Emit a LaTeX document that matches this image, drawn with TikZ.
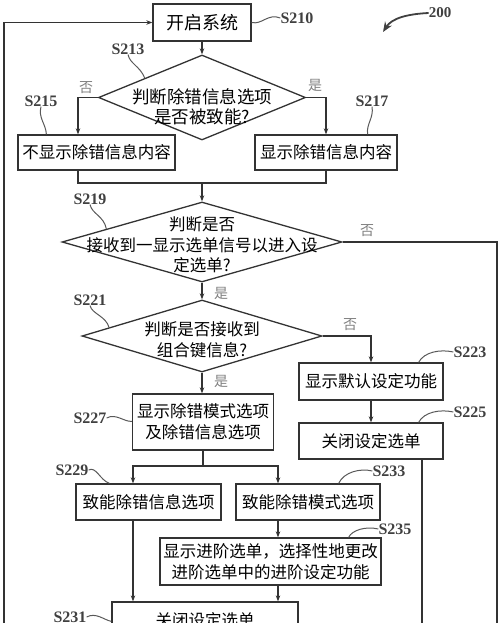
\documentclass[tikz,border=0pt]{standalone}
\usepackage{fontspec}
\setmainfont{Liberation Serif}
\newfontfamily\cjk{Noto Sans CJK SC}
\usetikzlibrary{shapes.geometric, arrows.meta, calc}
\tikzset{
  box/.style={draw=black!80, line width=1.3pt, inner sep=0pt, align=center, font=\cjk\fontsize{16.5}{21}\selectfont},
  dec/.style={draw=black!80, diamond, line width=1.3pt, inner sep=0pt},
  dtext/.style={align=center, inner sep=0pt, font=\cjk\fontsize{16.5}{20.5}\selectfont},
  tag/.style={font=\bfseries\fontsize{16}{16}\selectfont, text=black!75, inner sep=0pt},
  yn/.style={font=\cjk\fontsize{14}{14}\selectfont, text=black!50, inner sep=0pt},
  lead/.style={line width=1pt, black!65},
  wire/.style={line width=1.2pt, black!80},
  arr/.style={wire, -{Stealth[length=6pt, width=4.5pt]}}
}

\begin{document}
\begin{tikzpicture}[x=1pt, y=-1pt]
\useasboundingbox (0,0) rectangle (500,623);
\clip (0,0) rectangle (500,623);
% guides for the vertical lines
\coordinate (c0) at (78,0);
\coordinate (c1) at (133,0);
\coordinate (c2) at (278,0);
\coordinate (c3) at (422,660);
\coordinate (c4) at (497,660);
\coordinate (c5) at (4,660);
\coordinate (m219) at (202,183);
\coordinate (m227) at (203,466);
\coordinate (p200) at (383,32);

% steps
\node[box, minimum width=98pt, minimum height=37pt, font=\cjk\fontsize{18}{18}\selectfont] (s210) at (202,22.5) {开启系统};
\node[dec, minimum width=207pt, minimum height=85pt] (d213) at (202,97.5) {};
\node[dtext, font=\cjk\fontsize{17.5}{20}\selectfont] (t213) at (202,107) {判断除错信息选项\\是否被致能?};
\node[box, minimum width=157pt, minimum height=35pt] (s215) at (96.5,152.5) {不显示除错信息内容};
\node[box, minimum width=142pt, minimum height=35pt] (s217) at (326,152.5) {显示除错信息内容};
\node[dec, minimum width=280pt, minimum height=80pt] (d219) at (202,242) {};
\node[dtext] (t219) at (202,245) {判断是否\\接收到一显示选单信号以进入设\\定选单?};
\node[dec, minimum width=240pt, minimum height=72pt] (d221) at (202,336) {};
\node[dtext] (t221) at (202,340) {判断是否接收到\\组合键信息?};
\node[box, minimum width=144pt, minimum height=37pt] (s223) at (371,381.5) {显示默认设定功能};
\node[box, minimum width=144pt, minimum height=36pt] (s225) at (371,441) {关闭设定选单};
\node[box, minimum width=141pt, minimum height=56pt] (s227) at (203,422) {显示除错模式选项\\及除错信息选项};
\node[box, minimum width=145pt, minimum height=36pt] (s229) at (148.5,502) {致能除错信息选项};
\node[box, minimum width=144pt, minimum height=36pt] (s233) at (308,502) {致能除错模式选项};
\node[box, minimum width=221pt, minimum height=47pt] (s235) at (270.5,561.5) {显示进阶选单，选择性地更改\\进阶选单中的进阶设定功能};
\node[box, minimum width=186pt, minimum height=36pt] (s231) at (205,620) {关闭设定选单};

% step tags
\node[tag] (n210) at (297,18) {S210};
\node[tag] (n213) at (128,49) {S213};
\node[tag] (n215) at (41,101) {S215};
\node[tag] (n217) at (372,101) {S217};
\node[tag] (n219) at (90,199) {S219};
\node[tag] (n221) at (90,300) {S221};
\node[tag] (n223) at (470,352) {S223};
\node[tag] (n225) at (470,412) {S225};
\node[tag] (n227) at (90,418) {S227};
\node[tag] (n229) at (72,470) {S229};
\node[tag] (n231) at (70,617) {S231};
\node[tag] (n233) at (389,471) {S233};
\node[tag] (n235) at (395,529) {S235};
\node[tag, font=\bfseries\fontsize{15}{15}\selectfont] (n200) at (440,13) {200};

% yes / no
\node[yn] (y213a) at (86,88) {否};
\node[yn] (y213b) at (315,85) {是};
\node[yn] (y219a) at (367,231) {否};
\node[yn] (y219b) at (221,293) {是};
\node[yn] (y221a) at (350,325) {否};
\node[yn] (y221b) at (221,381) {是};

% flow
\draw[arr] (c5) |- (s210.west);
\draw[arr] (s210.south) -- (d213.north);
\draw[arr] (d213.west) -| (s215.north -| c0);
\draw[arr] (d213.east) -| (s217.north);
\draw[wire] (s215.south -| c0) |- (s217.south |- m219) -- (s217.south);
\draw[arr] (m219) -- (d219.north);
\draw[wire] (d219.east) -| (c4);
\draw[arr] (d219.south) -- (d221.north);
\draw[arr] (d221.east) -| (s223.north);
\draw[arr] (d221.south) -- (d221.south |- s227.north);
\draw[arr] (s223.south) -- (s225.north);
\draw[wire] (s225.south -| c3) -- (c3);
\draw[wire] (s227.south) -- (m227);
\draw[arr] (m227) -| (s229.north -| c1);
\draw[arr] (m227) -| (s233.north -| c2);
\draw[arr] (s233.south -| c2) -- (s235.north -| c2);
\draw[arr] (s235.south -| c2) -- (s231.north -| c2);
\draw[arr] (s229.south -| c1) -- (s231.north -| c1);

% leaders
\draw[lead] (s210.east) .. controls (262,25) and (268,13) .. (n210.west);
\draw[lead] (n213.south) .. controls (130,64) and (140,66) .. ($(d213.north)!0.55!(d213.west)$);
\draw[lead] (n215.south) .. controls (38,118) and (46,124) .. ($(s215.north west)+(29,0)$);
\draw[lead] (n217.south) .. controls (374,118) and (366,124) .. ($(s217.north east)+(-30,0)$);
\draw[lead] (n219.south) .. controls (92,214) and (104,216) .. ($(d219.north)!0.68!(d219.west)$);
\draw[lead] (n221.south) .. controls (92,314) and (106,316) .. ($(d221.north)!0.77!(d221.west)$);
\draw[lead] (n223.west) .. controls (440,349) and (424,352) .. ($(s223.north east)+(-25,0)$);
\draw[lead] (n225.west) .. controls (440,409) and (424,412) .. ($(s225.north east)+(-25,0)$);
\draw[lead] (n227.east) .. controls (116,413) and (124,422) .. ($(s227.north west)+(0,28)$);
\draw[lead] (n229.east) .. controls (96,466) and (100,480) .. ($(s229.north west)+(34,0)$);
\draw[lead] (n231.east) .. controls (96,612) and (104,620) .. ($(s231.north west)+(0,20)$);
\draw[lead] (n233.west) .. controls (360,468) and (344,472) .. ($(s233.north east)+(-42,0)$);
\draw[lead] (n235.west) .. controls (366,526) and (352,530) .. ($(s235.north east)+(-33,0)$);
\draw[line width=1.8pt, black!75, -{Stealth[length=10pt, width=8pt]}] (n200.west) .. controls (408,14) and (392,18) .. (p200);
\end{tikzpicture}
\end{document}
